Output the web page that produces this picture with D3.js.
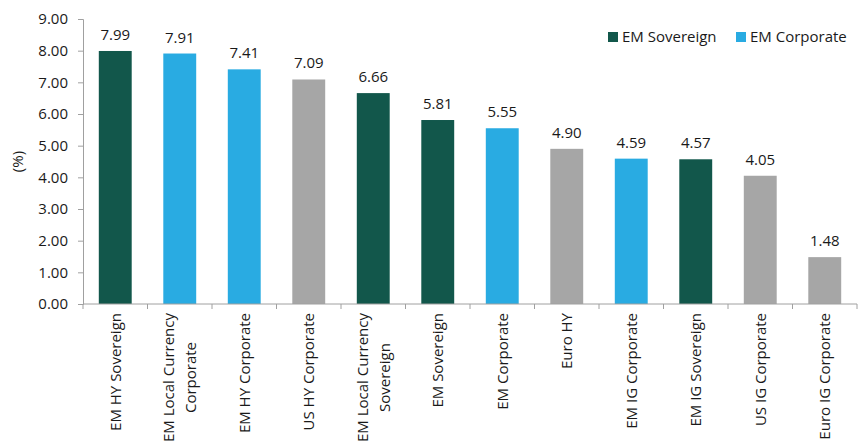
<!DOCTYPE html>
<html>
<head>
<meta charset="utf-8">
<script src="https://cdn.jsdelivr.net/npm/d3@7"></script>
<style>
  body { margin: 0; background: #fff; }
  text { font-family: "Open Sans", sans-serif; fill: #1a1a1a; }
</style>
</head>
<body>
<div id="chart"></div>
<script>
// Categories, one label line per array entry
var categories = [
  ["EM HY Sovereign"],
  ["EM Local Currency", "Corporate"],
  ["EM HY Corporate"],
  ["US HY Corporate"],
  ["EM Local Currency", "Sovereign"],
  ["EM Sovereign"],
  ["EM Corporate"],
  ["Euro HY"],
  ["EM IG Corporate"],
  ["EM IG Sovereign"],
  ["US IG Corporate"],
  ["Euro IG Corporate"]
];
var values = [7.99, 7.91, 7.41, 7.09, 6.66, 5.81, 5.55, 4.90, 4.59, 4.57, 4.05, 1.48];
var groups = ["sov", "corp", "corp", "other", "sov", "sov", "corp", "other", "corp", "sov", "other", "other"];
var yTicks = [0, 1, 2, 3, 4, 5, 6, 7, 8, 9];
var legendItems = [{key: "sov", label: "EM Sovereign"}, {key: "corp", label: "EM Corporate"}];

var colors = {sov: "#12574b", corp: "#29abe2", other: "#a6a6a6"};
var fontSize = "15px";

var margin = {top: 19, right: 2, bottom: 141, left: 83},
    width = 859 - margin.left - margin.right,
    height = 445 - margin.top - margin.bottom;

var svg = d3.select("#chart")
  .append("svg")
    .attr("width", 859)
    .attr("height", 445)
  .append("g")
    .attr("transform", "translate(" + margin.left + "," + margin.top + ")");

var x = d3.scaleBand()
  .domain(d3.range(categories.length))
  .range([0, width])
  .paddingInner(0.49)
  .paddingOuter(0.245);

var y = d3.scaleLinear()
  .domain([0, 9])
  .range([height, 0]);

// y axis
var yAxis = svg.append("g")
  .call(d3.axisLeft(y).tickValues(yTicks).tickFormat(d3.format(".2f")).tickSize(5).tickPadding(10));
yAxis.select(".domain").attr("stroke", "#a0a0a0");
yAxis.selectAll(".tick line").attr("stroke", "#a0a0a0");
yAxis.selectAll("text").style("font-size", fontSize).attr("fill", "#1a1a1a")
  .style("font-family", "'Open Sans', sans-serif");

svg.append("text")
  .attr("transform", "translate(-65," + (height / 2) + ") rotate(-90)")
  .attr("text-anchor", "middle")
  .attr("dy", "0.35em")
  .style("font-size", fontSize)
  .text("(%)");

// bars
svg.selectAll(".bar")
  .data(values)
  .enter()
  .append("rect")
    .attr("class", "bar")
    .attr("x", function(d, i) { return x(i); })
    .attr("y", function(d) { return y(d); })
    .attr("width", x.bandwidth())
    .attr("height", function(d) { return height - y(d); })
    .attr("fill", function(d, i) { return colors[groups[i]]; });

// value labels
svg.selectAll(".val")
  .data(values)
  .enter()
  .append("text")
    .attr("class", "val")
    .attr("x", function(d, i) { return x(i) + x.bandwidth() / 2; })
    .attr("y", function(d) { return y(d) - 11; })
    .attr("text-anchor", "middle")
    .style("font-size", fontSize)
    .text(function(d) { return d.toFixed(2); });

// x axis line with ticks at band boundaries
var step = x.step();
var xAxis = svg.append("g").attr("transform", "translate(0," + height + ")");
xAxis.append("line")
  .attr("x1", 0).attr("x2", width)
  .attr("stroke", "#a0a0a0");
xAxis.selectAll(".xt")
  .data(d3.range(categories.length + 1))
  .enter()
  .append("line")
    .attr("x1", function(d) { return d * step; })
    .attr("x2", function(d) { return d * step; })
    .attr("y1", 0).attr("y2", 5)
    .attr("stroke", "#a0a0a0");

// rotated category labels
var lab = xAxis.selectAll(".lab")
  .data(categories)
  .enter()
  .append("g")
    .attr("class", "lab")
    .attr("transform", function(d, i) {
      return "translate(" + (x(i) + x.bandwidth() / 2) + ",9) rotate(-90)";
    });

lab.each(function(lines) {
  var g = d3.select(this);
  var n = lines.length;
  var texts = g.selectAll("text")
    .data(lines)
    .enter()
    .append("text")
      .attr("y", function(d, j) { return (j - (n - 1) / 2) * 22; })
      .attr("dy", "0.35em")
      .attr("text-anchor", "middle")
      .style("font-size", fontSize)
      .text(function(d) { return d; });
  var maxW = d3.max(texts.nodes(), function(t) { return t.getComputedTextLength(); });
  texts.attr("x", -maxW / 2);
});

// legend
var legend = svg.append("g");
var lx = [525, 653];
legendItems.forEach(function(item, i) {
  legend.append("rect")
    .attr("x", lx[i]).attr("y", 13)
    .attr("width", 10).attr("height", 10)
    .attr("fill", colors[item.key]);
  legend.append("text")
    .attr("x", lx[i] + 14).attr("y", 18)
    .attr("dy", "0.35em")
    .style("font-size", fontSize)
    .text(item.label);
});
</script>
</body>
</html>
